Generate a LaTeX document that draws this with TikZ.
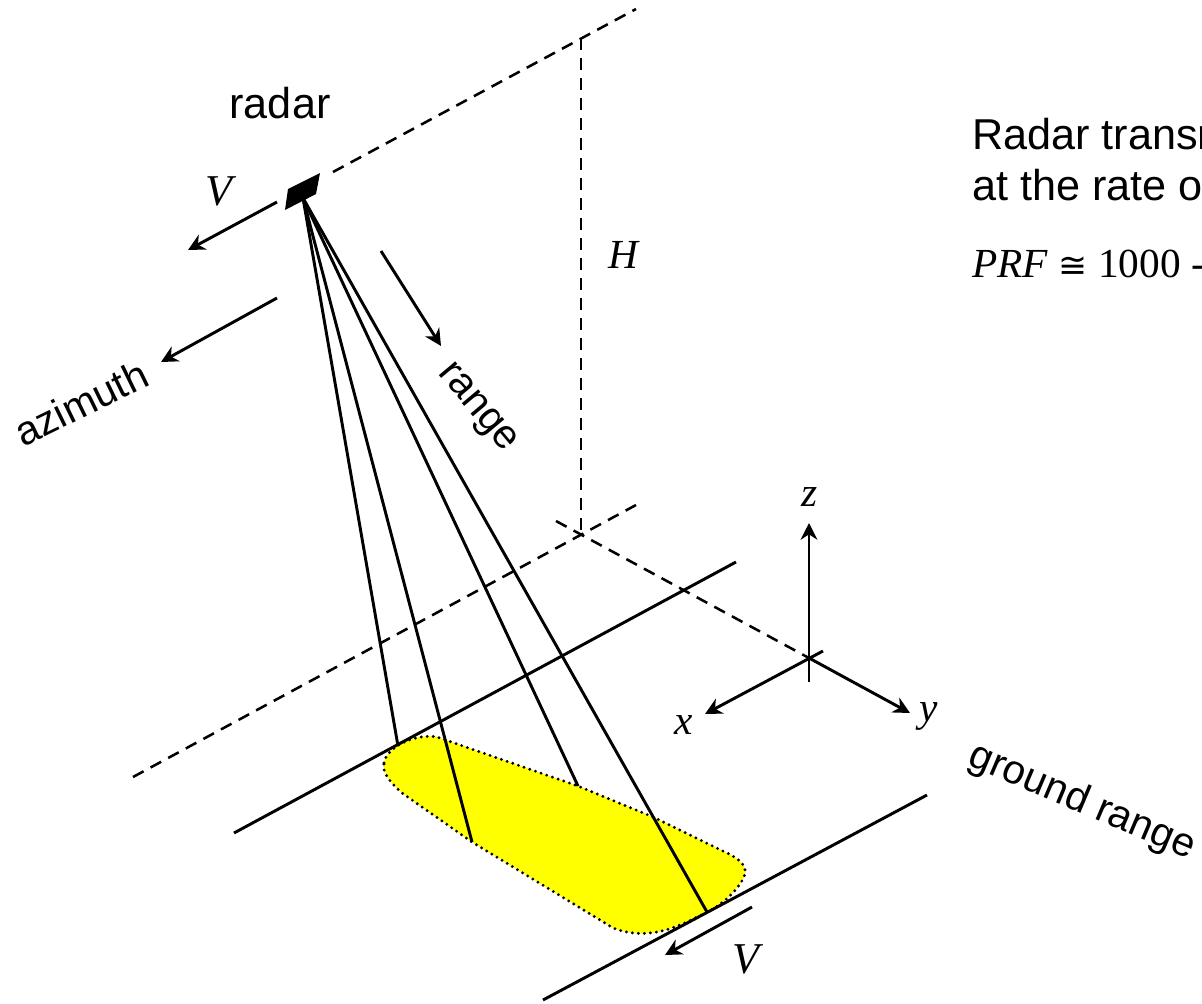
\documentclass[tikz,border=0pt]{standalone}
\usepackage{fontspec}
\setmainfont{Liberation Sans}
\newfontfamily\tmfam{Liberation Serif}
\newfontfamily\symfam{DejaVu Sans}
\usetikzlibrary{arrows.meta}
\definecolor{footyellow}{RGB}{255,255,0}
\tikzset{
  ln/.style={line width=2.2pt,black},
  dsh/.style={line width=1.9pt,black,dash pattern=on 9pt off 6pt},
  arr/.style={line width=2.2pt,black,-{Stealth[length=12.5pt,width=12.5pt,inset=4pt]}},
  ray/.style={line width=2.2pt,black},
  sans/.style={font=\fontsize{32.4}{32.4}\selectfont,inner sep=0pt},
  rotsans/.style={font=\fontsize{30.5}{30.5}\selectfont,inner sep=0pt},
  mi/.style={font=\fontsize{31}{31}\selectfont\tmfam\itshape,inner sep=0pt},
  big/.style={font=\fontsize{33}{33}\selectfont\tmfam\itshape,inner sep=0pt},
}
\begin{document}
\begin{tikzpicture}[x=0.75pt,y=-0.75pt]
\useasboundingbox (0,0) rectangle (1202,1003);
\clip (0,0) rectangle (1202,1003);
% footprint
\path[fill=footyellow,draw=black,line width=2.4pt,line cap=round,dash pattern=on 0pt off 4.5pt]
 (384,763) .. controls (386,748) and (414,733) .. (437,737)
 -- (578,786) -- (653,817) -- (727,853)
 .. controls (742,860) and (748,868) .. (744,877)
 .. controls (738,890) and (722,905) .. (707,912)
 .. controls (680,926) and (650,942) .. (613,928)
 -- (472,842) -- (402,793)
 .. controls (390,782) and (382,773) .. (384,763) -- cycle;
% radar
\coordinate (apex) at (303,198);
\fill[black] (288,189) -- (320,173) -- (316,194) -- (285,210) -- cycle;
\coordinate (f1) at (398,746);
\coordinate (f2) at (472,842);
\coordinate (f3) at (578,786);
\coordinate (f4) at (707,912);
\draw[ray] (apex) -- (f1);
\draw[ray] (apex) -- (f2);
\draw[ray] (apex) -- (f3);
\draw[ray] (apex) -- (f4);
% dashed geometry
\coordinate (t1) at (333,172); \coordinate (t2) at (636,9);
\coordinate (v1) at (581,38);  \coordinate (v2) at (581,535);
\coordinate (g1) at (133,777); \coordinate (g2) at (636,505);
\coordinate (h1) at (556,521); \coordinate (o) at (809,658);
\draw[dsh] (t1) -- (t2);
\draw[dsh] (v1) -- (v2);
\draw[dsh] (g1) -- (g2);
\draw[dsh] (h1) -- (o);
% swath edges
\coordinate (s1) at (234,833); \coordinate (s2) at (736,562);
\coordinate (s3) at (543,1000); \coordinate (s4) at (927,795);
\draw[ln] (s1) -- (s2);
\draw[ln] (s3) -- (s4);
% axes
\coordinate (xs) at (823,651); \coordinate (xe) at (705,714);
\coordinate (ye) at (910,713);
\coordinate (zs) at (809,682); \coordinate (ze) at (809,523);
\draw[arr] (xs) -- (xe);
\draw[arr] (o) -- (ye);
\draw[arr] (zs) -- (ze);
\node[mi] (lx) at (684,725) {x};
\node[mi] (ly) at (929,716) {y};
\node[mi] (lz) at (810,497) {z};
% motion arrows
\coordinate (a1) at (277,202); \coordinate (a2) at (188,250);
\coordinate (a3) at (277,298); \coordinate (a4) at (161,362);
\coordinate (a5) at (381,251); \coordinate (a6) at (441,346);
\coordinate (a7) at (752,907); \coordinate (a8) at (665,955);
\draw[arr] (a1) -- (a2);
\draw[arr] (a3) -- (a4);
\draw[arr] (a5) -- (a6);
\draw[arr] (a7) -- (a8);
\node[big] (v1l) at (219,191) {V};
\node[big] (v2l) at (746,959) {V};
\node[mi] (hl) at (623,255) {H};
\node[sans] (radar) at (280,103) {radar};
\node[rotsans,rotate=26] (az) at (81,403) {azimuth};
\node[rotsans,rotate=-50] (rg) at (476,409) {range};
\node[rotsans,rotate=-23] (gr) at (1082,802) {ground range};
\node[sans,anchor=base west] (tx1) at (972,149) {Radar transm};
\node[sans,anchor=base west] (tx2) at (972,200) {at the rate o};
\node[inner sep=0pt,anchor=base west,font=\fontsize{31}{31}\selectfont\tmfam] (tx3) at (972,277) {\textit{PRF} {\symfam\fontsize{26}{26}\selectfont ≅} 1000 -};
\end{tikzpicture}
\end{document}
